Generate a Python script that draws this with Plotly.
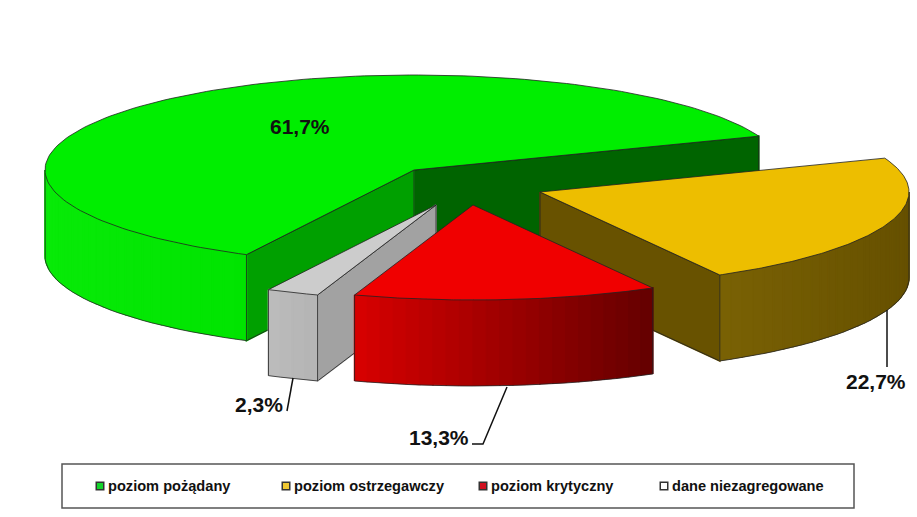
import numpy as np
import plotly.graph_objects as go

# ---- data ----
categories = ["poziom pożądany", "poziom ostrzegawczy", "poziom krytyczny", "dane niezagregowane"]
values = [61.7, 22.7, 13.3, 2.3]
labels = ["61,7%", "22,7%", "13,3%", "2,3%"]

# ---- geometry / style of the 3-D pie ----
W, H = 917, 517
START = 243.0            # slices run clockwise from this angle
RX, RY, DEPTH = 369.0, 95.0, 86.0
centers = {0: (414, 170), 1: (540, 192), 2: (473, 205), 3: (436, 205)}
top_col = ["#00ee00", "#edbe00", "#f00000", "#cccccc"]
wall_left = ["#08ea08", "#7a6204", "#d80000", "#bcbcbc"]
wall_right = ["#00e400", "#665000", "#640000", "#b4b4b4"]
# flat cut faces: (slice, which radial edge: 0 = start angle, 1 = end angle, colour)
cut_faces = {0: [(1, "#006400"), (0, "#00a000")], 1: [(1, "#685200")], 2: [], 3: [(0, "#a2a2a2")]}
draw_order = [0, 1, 3, 2]
EDGE = "#222222"

# label centre, leader polyline
label_pos = [(300, 126), (876, 381), (439, 437), (259, 404)]
leaders = [None, [(887, 310), (887, 367)], [(507, 387), (483, 444), (472, 444)], [(293, 378), (287, 411)]]

# legend
LEG_BOX = (62, 464, 854, 508)
leg_x = [100, 286, 483, 664]
leg_y = 486
leg_marker = ["#14d42c", "#f0c832", "#d01020", "#ffffff"]

# ---- slice angles from the values ----
angles = []
a = START
for v in values:
    b = a - v * 3.6
    angles.append((b, a))
    a = b

fig = go.Figure()


def pt(c, deg, dz=0.0):
    r = np.radians(deg)
    return c[0] + RX * np.cos(r), c[1] - RY * np.sin(r) + dz


def poly(xs, ys, color, line=None, lw=0.8):
    fig.add_trace(go.Scatter(
        x=list(xs), y=list(ys), mode="lines", fill="toself", fillcolor=color,
        line=dict(color=line or color, width=lw if line else 1.6),
        hoverinfo="skip", showlegend=False))


def outline(xs, ys):
    fig.add_trace(go.Scatter(x=list(xs), y=list(ys), mode="lines",
                             line=dict(color=EDGE, width=0.8),
                             hoverinfo="skip", showlegend=False))


def hex2rgb(h):
    return np.array([int(h[i:i + 2], 16) for i in (1, 3, 5)], float)


def mix(h1, h2, t):
    c = hex2rgb(h1) * (1 - t) + hex2rgb(h2) * t
    return "rgb(%d,%d,%d)" % tuple(c.round())


for i in draw_order:
    c = centers[i]
    lo, hi = angles[i]
    # flat cut faces
    for which, col in cut_faces[i]:
        ang = hi if which == 0 else lo
        px, py = pt(c, ang)
        xs = [c[0], px, px, c[0], c[0]]
        ys = [c[1], py, py + DEPTH, c[1] + DEPTH, c[1]]
        poly(xs, ys, col)
        outline(xs, ys)
    # outer wall, only the part facing the viewer (lower half of the ellipse)
    for k in range(-1, 2):
        s = max(lo, 180 + 360 * k)
        e = min(hi, 360 + 360 * k)
        if e > s:
            n = max(4, int((e - s) / 2))
            grid = np.linspace(s, e, n + 1)
            x_min = pt(c, s)[0]
            x_max = pt(c, e)[0]
            lo_x, hi_x = min(x_min, x_max), max(x_min, x_max)
            for g0, g1 in zip(grid[:-1], grid[1:]):
                a0, a1 = pt(c, g0), pt(c, g1)
                t = ((a0[0] + a1[0]) / 2 - lo_x) / max(hi_x - lo_x, 1)
                col = mix(wall_left[i], wall_right[i], t)
                poly([a0[0], a1[0], a1[0], a0[0], a0[0]],
                     [a0[1], a1[1], a1[1] + DEPTH - 0.7, a0[1] + DEPTH - 0.7, a0[1]], col)
            bottom = [pt(c, g, DEPTH) for g in grid]
            outline([pt(c, s)[0]] + [p[0] for p in bottom] + [pt(c, e)[0]],
                    [pt(c, s)[1]] + [p[1] for p in bottom] + [pt(c, e)[1]])
    # top face
    th = np.linspace(lo, hi, 160)
    xs = [c[0]] + [pt(c, t)[0] for t in th] + [c[0]]
    ys = [c[1]] + [pt(c, t)[1] for t in th] + [c[1]]
    poly(xs, ys, top_col[i], EDGE, 0.8)

# leader lines
shapes = []
for ld in leaders:
    if ld:
        path = "M " + " L ".join(f"{x},{y}" for x, y in ld)
        shapes.append(dict(type="path", path=path, xref="x", yref="y",
                           line=dict(color="#111111", width=1.5)))
# legend frame
shapes.append(dict(type="rect", xref="x", yref="y", x0=LEG_BOX[0], y0=LEG_BOX[1], x1=LEG_BOX[2], y1=LEG_BOX[3],
                   line=dict(color="#555555", width=1.5), fillcolor="white", layer="below"))

# legend keys
fig.add_trace(go.Scatter(x=leg_x, y=[leg_y] * 4, mode="markers",
                         marker=dict(symbol="square", size=7.5, color=leg_marker,
                                     line=dict(color="#333333", width=1.5)),
                         hoverinfo="skip", showlegend=False))

ann = []
for t, (x, y) in zip(labels, label_pos):
    ann.append(dict(x=x, y=y, text=f"<b>{t}</b>", showarrow=False, xanchor="center", yanchor="middle",
                    font=dict(family="Liberation Sans", size=21, color="#111111")))
for t, x in zip(categories, leg_x):
    ann.append(dict(x=x + 6, y=leg_y, text=f"<b>{t}</b>", showarrow=False, xanchor="left", yanchor="middle",
                    font=dict(family="Liberation Sans", size=14.6, color="#111111")))

fig.update_layout(
    width=W, height=H, margin=dict(l=0, r=0, t=0, b=0), autosize=False,
    paper_bgcolor="white", plot_bgcolor="white", showlegend=False,
    xaxis=dict(range=[0, W], visible=False, fixedrange=True),
    yaxis=dict(range=[H, 0], visible=False, fixedrange=True),
    shapes=shapes, annotations=ann,
)
fig.write_html("out.html", post_script="document.body.style.margin='0';", config={"displayModeBar": False})
